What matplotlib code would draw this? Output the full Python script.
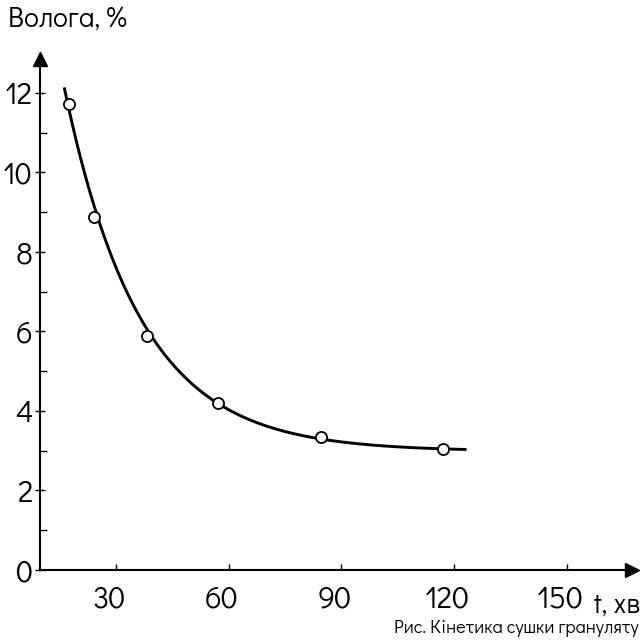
import numpy as np
import matplotlib
matplotlib.use("Agg")
import matplotlib.pyplot as plt
import matplotlib.transforms as mtransforms
from matplotlib.ticker import MultipleLocator

plt.rcParams['font.family'] = ['Didact Gothic', 'Jost', 'Noto Sans', 'DejaVu Sans']

# ---- data ----
t_min = [17.6, 24.3, 38.3, 57.1, 84.6, 117.1]        # drying time, min
moisture = [11.73, 8.88, 5.89, 4.21, 3.35, 3.04]      # moisture, %
x_ticks = [30, 60, 90, 120, 150]
y_ticks = [0, 2, 4, 6, 8, 10, 12]
y_label = "Волога, %"
x_label = "t, хв"
caption = "Рис. Кінетика сушки грануляту"
curve_w_top = 12.1      # where the drawn trend line begins (moisture)
curve_t_end = 122.9     # where the drawn trend line ends (time)

# ---- trend line: fit W = a + b*exp(-k t) to the points ----
t_arr = np.array(t_min)
w_arr = np.array(moisture)
best = None
for a in np.linspace(1.5, min(w_arr) - 0.02, 300):
    k_neg, lnb = np.polyfit(t_arr, np.log(w_arr - a), 1)
    pred = a + np.exp(lnb) * np.exp(k_neg * t_arr)
    sse = np.sum((pred - w_arr) ** 2)
    if best is None or sse < best[0]:
        best = (sse, a, np.exp(lnb), -k_neg)
_, A, B, K = best
t_start = -np.log((curve_w_top - A) / B) / K
t_curve = np.linspace(t_start, curve_t_end, 300)
w_curve = A + B * np.exp(-K * t_curve)

# ---- figure ----
W, H, DPI = 644, 643, 100
fig = plt.figure(figsize=(W / DPI, H / DPI), dpi=DPI)
ax = fig.add_axes([40 / W, (H - 570) / H, (632 - 40) / W, (570 - 59) / H])

ax.plot(t_curve, w_curve, color='black', lw=2.1, zorder=2)
ax.plot(t_min, moisture, linestyle='none', marker='o', ms=8,
        mfc='white', mec='black', mew=1.3, zorder=3)

ax.set_xlim(9.84, 167.3)
ax.set_ylim(0, 12.85)

for s in ['top', 'right']:
    ax.spines[s].set_visible(False)
for s in ['left', 'bottom']:
    ax.spines[s].set_linewidth(1.5)

# arrow heads
ax.plot(1, 0, marker='>', color='black', ms=10, transform=ax.transAxes,
        clip_on=False)
ax.plot(0, 1, marker='^', color='black', ms=10, transform=ax.transAxes,
        clip_on=False)

ax.set_xticks(x_ticks)
ax.set_xticklabels([str(v) for v in x_ticks])
ax.set_yticks(y_ticks)
ax.set_yticklabels([str(v) for v in y_ticks])
ax.yaxis.set_minor_locator(MultipleLocator(1))

ax.tick_params(axis='x', direction='in', length=4, width=1, pad=11,
               labelsize=22)
ax.tick_params(axis='y', which='major', direction='inout', length=7,
               width=1, pad=2, labelsize=22)
ax.tick_params(axis='y', which='minor', direction='in', length=5, width=1)

# the printed x labels sit a little left of their tick marks
shift = mtransforms.ScaledTranslation(-7 / DPI, 0, fig.dpi_scale_trans)
for lab in ax.get_xticklabels():
    lab.set_transform(lab.get_transform() + shift)

fig.text(8 / W, (H - 28) / H, y_label, fontsize=20, ha='left',
         va='baseline')
fig.text(594 / W, (H - 613) / H, x_label, fontsize=20, ha='left',
         va='baseline')
fig.text(639 / W, (H - 633) / H, caption, fontsize=13, ha='right',
         va='baseline')

fig.savefig('out.png', dpi=DPI)
